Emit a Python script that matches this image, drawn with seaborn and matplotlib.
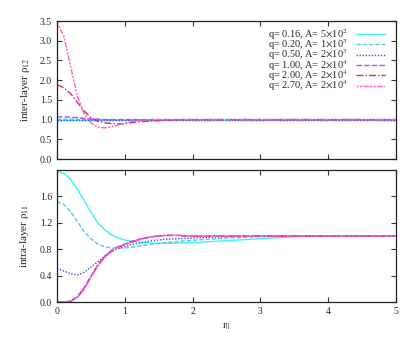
import pandas as pd
import matplotlib
matplotlib.use("Agg")
import matplotlib.pyplot as plt
import seaborn as sns

# radial distance grid
r = [0.0, 0.1, 0.2, 0.3, 0.4, 0.5, 0.6, 0.7, 0.8, 0.9, 1.0,
     1.1, 1.2, 1.3, 1.4, 1.5, 1.6, 1.7, 1.8, 1.9, 2.0,
     2.5, 3.0, 3.5, 4.0, 4.5, 5.0]

labels = [r"q= 0.16, A= 5$\times$10$^2$",
          r"q= 0.20, A= 1$\times$10$^3$",
          r"q= 0.50, A= 2$\times$10$^3$",
          r"q= 1.00, A= 2$\times$10$^4$",
          r"q= 2.00, A= 2$\times$10$^4$",
          r"q= 2.70, A= 2$\times$10$^4$"]

# inter-layer rho_12
inter_016 = [1.0] * 27
inter_020 = [1.01, 1.01, 1.01, 1.01, 1.0, 1.0, 1.0, 1.0, 1.0, 1.0, 1.0,
             1.0, 1.0, 1.0, 1.0, 1.0, 1.0, 1.0, 1.0, 1.0, 1.0,
             1.0, 1.0, 1.0, 1.0, 1.0, 1.0]
inter_050 = [1.0] * 27
inter_100 = [1.07, 1.07, 1.06, 1.05, 1.03, 1.02, 1.01, 1.0, 1.0, 1.0, 1.0,
             1.0, 1.0, 1.0, 1.0, 1.0, 1.0, 1.0, 1.0, 1.0, 1.0,
             1.0, 1.0, 1.0, 1.0, 1.0, 1.0]
inter_200 = [1.88, 1.81, 1.66, 1.44, 1.22, 1.05, 0.96, 0.92, 0.90, 0.89, 0.90,
             0.92, 0.94, 0.955, 0.965, 0.975, 0.985, 0.99, 0.995, 1.0, 1.0,
             1.0, 1.0, 1.0, 1.0, 1.0, 1.0]
inter_270 = [3.45, 3.12, 2.35, 1.60, 1.15, 0.92, 0.81, 0.79, 0.81, 0.86, 0.91,
             0.95, 0.98, 0.99, 1.0, 1.0, 1.0, 1.0, 1.0, 1.0, 1.0,
             1.0, 1.0, 1.0, 1.0, 1.0, 1.0]

# intra-layer rho_11
intra_016 = [1.98, 1.95, 1.86, 1.71, 1.54, 1.36, 1.20, 1.10, 1.02, 0.97, 0.94,
             0.92, 0.91, 0.90, 0.895, 0.89, 0.89, 0.89, 0.895, 0.90, 0.90,
             0.93, 0.96, 0.99, 1.0, 1.0, 1.0]
intra_020 = [1.52, 1.48, 1.37, 1.22, 1.07, 0.96, 0.88, 0.84, 0.82, 0.815, 0.82,
             0.83, 0.845, 0.86, 0.875, 0.89, 0.90, 0.91, 0.92, 0.93, 0.935,
             0.97, 0.99, 1.0, 1.0, 1.0, 1.0]
intra_050 = [0.51, 0.47, 0.43, 0.41, 0.45, 0.53, 0.61, 0.69, 0.76, 0.81, 0.84,
             0.87, 0.89, 0.91, 0.93, 0.94, 0.95, 0.955, 0.96, 0.965, 0.97,
             0.99, 1.0, 1.0, 1.0, 1.0, 1.0]
intra_100 = [0.0, 0.0, 0.015, 0.08, 0.22, 0.39, 0.56, 0.69, 0.78, 0.84, 0.88,
             0.92, 0.95, 0.97, 0.99, 1.0, 1.01, 1.01, 1.01, 1.0, 1.0,
             1.0, 1.0, 1.0, 1.0, 1.0, 1.0]
intra_200 = [0.0, 0.0, 0.01, 0.07, 0.20, 0.38, 0.55, 0.68, 0.77, 0.83, 0.87,
             0.91, 0.94, 0.97, 0.99, 1.0, 1.01, 1.01, 1.01, 1.0, 1.0,
             1.0, 1.0, 1.0, 1.0, 1.0, 1.0]
intra_270 = [0.0, 0.0, 0.01, 0.065, 0.19, 0.37, 0.54, 0.67, 0.76, 0.83, 0.87,
             0.91, 0.94, 0.97, 0.99, 1.0, 1.01, 1.01, 1.01, 1.0, 1.0,
             1.0, 1.0, 1.0, 1.0, 1.0, 1.0]

colors = ["#40f0f0", "#50c8f0", "#4848f0", "#b050f0", "#e0207f", "#ff60c0"]
styles = ["-", (0, (3, 1.5)), (0, (1, 1.2)), (0, (4, 1.5)),
          (0, (5, 1.5, 1, 1.5)), (0, (1.5, 1, 1.5, 1, 4, 1))]

inter = [inter_016, inter_020, inter_050, inter_100, inter_200, inter_270]
intra = [intra_016, intra_020, intra_050, intra_100, intra_200, intra_270]

sns.set_theme(style="ticks")
plt.rcParams['font.family'] = ['Liberation Serif', 'DejaVu Serif']
plt.rcParams['mathtext.fontset'] = 'stix'

fig = plt.figure(figsize=(4.11, 3.45), dpi=100)
ax1 = fig.add_axes([0.1387, 0.539, 0.8248, 0.400])
ax2 = fig.add_axes([0.1387, 0.1246, 0.8248, 0.3824])

for i in range(6):
    sns.lineplot(x=r, y=inter[i], ax=ax1, color=colors[i], linestyle=styles[i],
                 linewidth=1.0, label=labels[i])
    sns.lineplot(x=r, y=intra[i], ax=ax2, color=colors[i], linestyle=styles[i],
                 linewidth=1.0)

ax1.set_xlim(0, 5)
ax1.set_ylim(0, 3.5)
ax1.set_yticks([0.0, 0.5, 1.0, 1.5, 2.0, 2.5, 3.0, 3.5])
ax1.set_yticklabels([f"{v:.1f}" for v in ax1.get_yticks()])
ax1.set_xticks([0, 1, 2, 3, 4, 5])
ax1.set_xticklabels([])
ax1.set_ylabel("inter-layer ρ$_{12}$", fontsize=8, labelpad=6)

ax2.set_xlim(0, 5)
ax2.set_ylim(0, 2.0)
ax2.set_yticks([0.0, 0.4, 0.8, 1.2, 1.6])
ax2.set_yticklabels([f"{v:.1f}" for v in ax2.get_yticks()])
ax2.set_xticks([0, 1, 2, 3, 4, 5])
ax2.set_xlabel(r"r$_{||}$", fontsize=8)
ax2.set_ylabel("intra-layer ρ$_{11}$", fontsize=8, labelpad=6)

for ax in (ax1, ax2):
    ax.tick_params(direction="in", length=3.5, width=0.8, labelsize=7,
                   top=True, right=True, color="#333333")
    for s in ax.spines.values():
        s.set_linewidth(0.9)
        s.set_color("#222222")

ax1.legend(loc="upper right", bbox_to_anchor=(0.99, 1.01), frameon=False,
           markerfirst=False, fontsize=7.4, handlelength=2.9,
           labelspacing=-0.45, handletextpad=0.8, borderpad=0.2)

fig.savefig("out.png", dpi=100)
